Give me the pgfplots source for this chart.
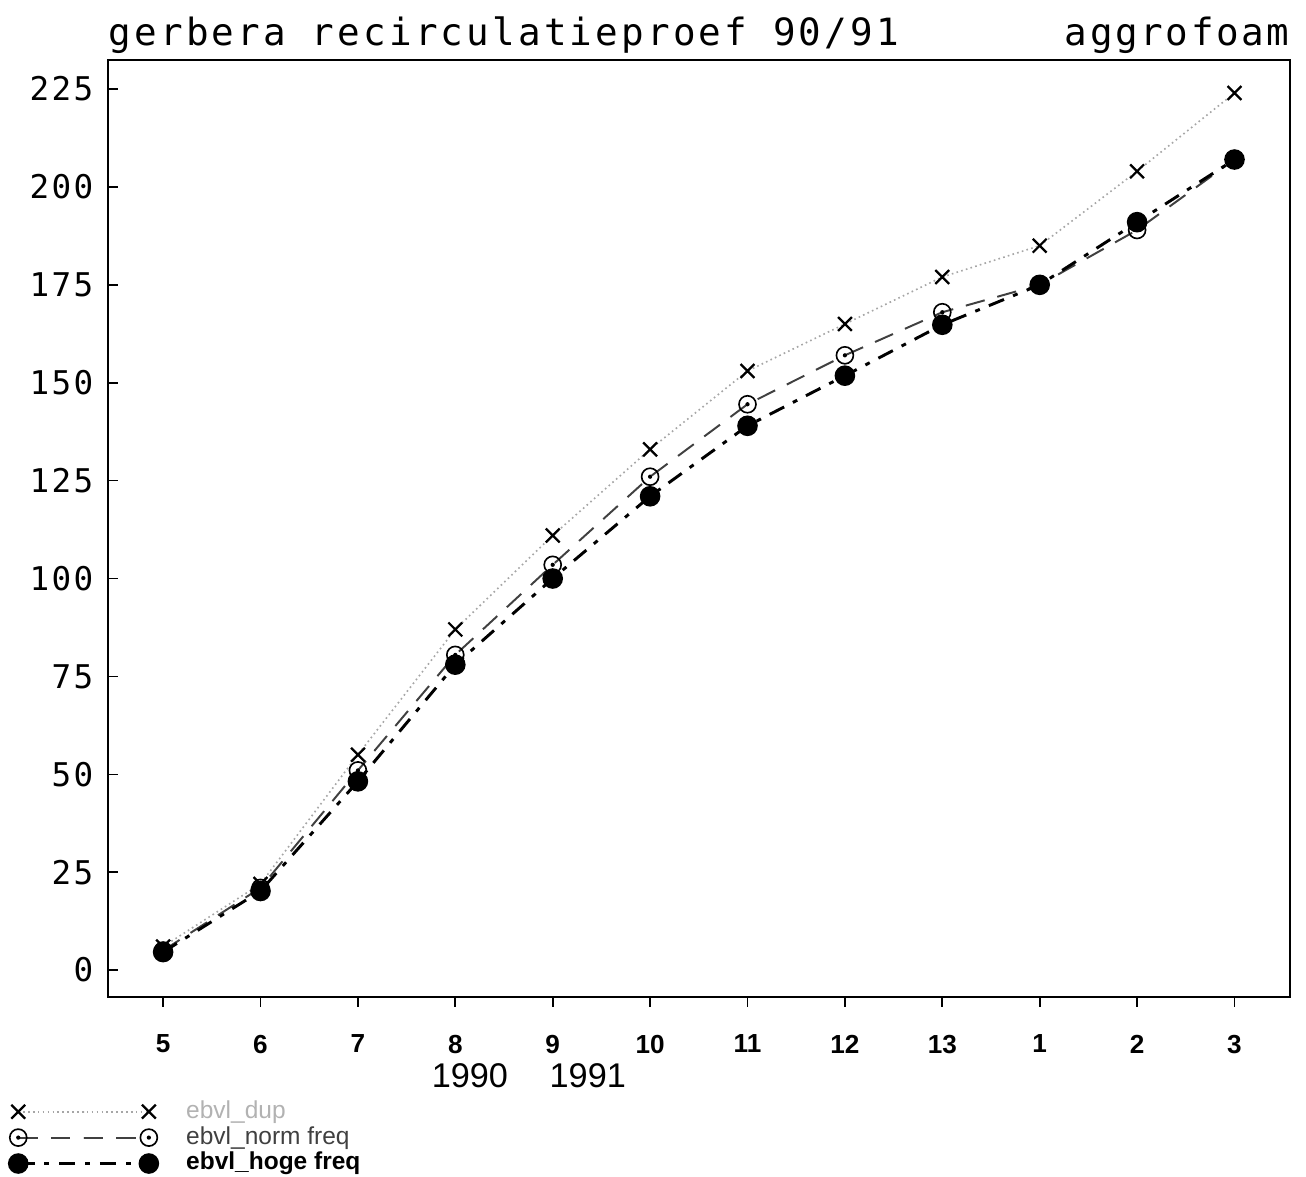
\documentclass[border=0pt]{standalone}
\usepackage{fontspec}
\setmainfont{Liberation Sans}
\newfontfamily\plotfont[LetterSpace=7]{DejaVu Sans Mono}
\newfontfamily\titlefont[LetterSpace=8.5]{DejaVu Sans Mono}
\usepackage{pgfplots}
\pgfplotsset{compat=1.18}
\pgfdeclareplotmark{odot}{%
  \pgfpathcircle{\pgfpointorigin}{\pgfplotmarksize}\pgfusepathqstroke
  \pgfpathcircle{\pgfpointorigin}{0.25\pgfplotmarksize}\pgfusepathqfill}
\begin{document}
\begin{tikzpicture}
\begin{axis}[
  scale only axis,
  width=362pt, height=287pt,
  xmin=-0.565, xmax=11.57,
  ymin=-6.9, ymax=232.4,
  axis line style={line width=0.6pt},
  xtick={0,...,11},
  xticklabels={5,6,7,8,9,10,11,12,13,1,2,3},
  ytick={0,25,...,225},
  tick pos=left,
  xtick align=outside,
  ytick align=inside,
  major tick length=3pt,
  tick style={black, line width=0.5pt},
  /pgf/number format/assume math mode=true,
  xticklabel style={font=\fontsize{8}{9}\selectfont\bfseries, yshift=-5pt},
  yticklabel style={font=\plotfont\fontsize{10}{12}\selectfont, xshift=-1pt},
  legend cell align=left,
  legend style={at={(-0.084,-0.106)}, anchor=north west, draw=none, fill=none,
    font=\fontsize{7.5}{7.5}\selectfont, row sep=-1pt, inner sep=0pt,
    nodes={inner sep=1pt}},
  legend image code/.code={%
    \draw[mark repeat=2,mark phase=1,#1] plot coordinates {(0pt,0pt) (20pt,0pt) (40pt,0pt)};
    \path (50pt,0pt);},
  clip=false,
]
\addplot[gray!70, densely dotted, line width=0.5pt, mark=x, mark size=3pt,
  mark options={solid, black, line width=0.7pt}]
  coordinates {(0,6) (1,22) (2,55) (3,87) (4,111) (5,133) (6,153) (7,165) (8,177) (9,185) (10,204) (11,224)};
\addlegendentry{\textcolor{gray!60}{ebvl\_dup}}
\addplot[black!75, dashed, dash pattern=on 6pt off 4pt, line width=0.6pt, mark=odot, mark size=2.6pt,
  mark options={solid, black, line width=0.5pt}]
  coordinates {(0,5) (1,21) (2,51) (3,80.5) (4,103.5) (5,126) (6,144.5) (7,157) (8,168) (9,175) (10,189) (11,207)};
\addlegendentry{\textcolor{black!75}{ebvl\_norm freq}}
\addplot[black, dash pattern=on 5pt off 3pt on 1.5pt off 3pt, line width=0.9pt, mark=*, mark size=2.7pt,
  mark options={solid, black}]
  coordinates {(0,4.6) (1,20.2) (2,48.2) (3,78) (4,100) (5,121) (6,139) (7,151.8) (8,164.8) (9,175) (10,191) (11,207)};
\addlegendentry{\textbf{ebvl\_hoge freq}}
\node[anchor=base west, font=\titlefont\fontsize{11.5}{13}\selectfont, yshift=4.6pt, inner xsep=0pt] at (rel axis cs:0,1) {gerbera recirculatieproef 90/91};
\node[anchor=base east, font=\plotfont\fontsize{11.5}{13}\selectfont, yshift=4.6pt, inner xsep=0pt] at (rel axis cs:1,1) {aggrofoam};
\node[font=\fontsize{10.5}{12}\selectfont, yshift=-24pt] at (axis cs:3.15,-6.9) {1990};
\node[font=\fontsize{10.5}{12}\selectfont, yshift=-24pt] at (axis cs:4.36,-6.9) {1991};
\end{axis}
\pgfresetboundingbox
\path ([shift={(-33.1pt,-54.8pt)}]current axis.south west) rectangle ([shift={(4.9pt,18.4pt)}]current axis.north east);
\end{tikzpicture}
\end{document}
